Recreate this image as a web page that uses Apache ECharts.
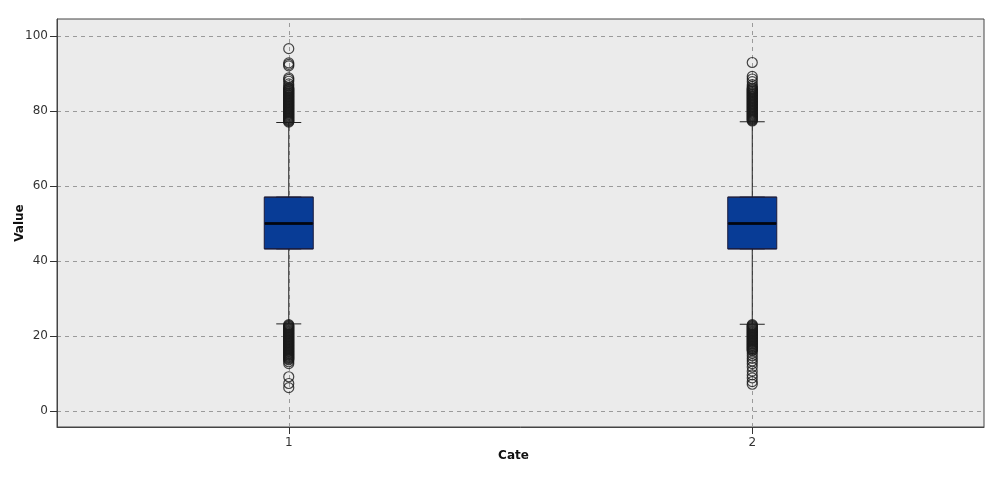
<!DOCTYPE html>
<html>
<head>
<meta charset="utf-8">
<script src="https://cdn.jsdelivr.net/npm/echarts@6/dist/echarts.min.js"></script>
<style>html,body{margin:0;padding:0;background:#fff}#c{width:1000px;height:485px}</style>
</head>
<body>
<div id="c"></div>
<script>
const categories = ['1', '2'];
const yTicks = [0, 20, 40, 60, 80, 100];
// [lower whisker, Q1, median, Q3, upper whisker]
const boxStats = [
  [23.2, 43.2, 50.0, 57.0, 76.9],
  [23.1, 43.2, 50.0, 57.0, 77.1]
];
const outliers1 = [
  96.6, 92.8, 92.4, 92.0, 88.8, 88.4, 87.9, 87.2, 86.7,
  86.2, 86.0, 85.8, 85.6, 85.4, 85.2, 85.0, 84.8, 84.6, 84.4, 84.2, 84.0, 83.8, 83.6,
  83.4, 83.2, 83.0, 82.8, 82.6, 82.4, 82.2, 82.0, 81.8, 81.6, 81.4, 81.2, 81.0, 80.8,
  80.6, 80.4, 80.2, 80.0, 79.8, 79.6, 79.4, 79.2, 79.0, 78.8, 78.6, 78.4, 78.2, 78.0,
  77.8, 77.6, 77.4, 77.2, 77.0,
  23.0, 22.8, 22.6, 22.4, 22.2, 22.0, 21.8, 21.6, 21.4, 21.2, 21.0, 20.8, 20.6, 20.4,
  20.2, 20.0, 19.8, 19.6, 19.4, 19.2, 19.0, 18.8, 18.6, 18.4, 18.2, 18.0, 17.8, 17.6,
  17.4, 17.2, 17.0, 16.8, 16.6, 16.4, 16.2, 16.0, 15.8, 15.6, 15.4, 15.2, 15.0, 14.8,
  14.6, 14.4, 14.2, 14.0, 13.8, 13.6,
  13.1, 12.6, 9.1, 7.3, 6.2
];
const outliers2 = [
  92.9, 89.2, 88.5, 87.8, 87.0, 86.5,
  86.1, 85.9, 85.7, 85.5, 85.3, 85.1, 84.9, 84.7, 84.5, 84.3, 84.1, 83.9, 83.7, 83.5,
  83.3, 83.1, 82.9, 82.7, 82.5, 82.3, 82.1, 81.9, 81.7, 81.5, 81.3, 81.1, 80.9, 80.7,
  80.5, 80.3, 80.1, 79.9, 79.7, 79.5, 79.3, 79.1, 78.9, 78.7, 78.5, 78.3, 78.1, 77.9,
  77.7, 77.5, 77.3,
  23.0, 22.8, 22.6, 22.4, 22.2, 22.0, 21.8, 21.6, 21.4, 21.2, 21.0, 20.8, 20.6, 20.4,
  20.2, 20.0, 19.8, 19.6, 19.4, 19.2, 19.0, 18.8, 18.6, 18.4, 18.2, 18.0, 17.8, 17.6,
  17.4, 17.2, 17.0, 16.8, 16.6, 16.4, 16.2, 16.0,
  15.4, 14.7, 14.0, 13.3, 12.6, 11.7, 10.6, 9.6, 8.8, 7.8, 7.1
];
const outlierLists = [outliers1, outliers2];

const chart = echarts.init(document.getElementById('c'), null, {renderer: 'canvas'});
const tickFont = {fontFamily: 'DejaVu Sans', fontSize: 12, color: '#333'};
const titleFont = {fontFamily: 'DejaVu Sans', fontWeight: 'bold', fontSize: 12, color: '#111'};

const outlierData = [];
outlierLists.forEach((list, i) => list.forEach(v => outlierData.push([categories[i], v])));

chart.setOption({
  animation: false,
  grid: {
    left: 57, right: 16, top: 19, bottom: 58,
    containLabel: false, outerBoundsMode: 'none',
    show: true, backgroundColor: '#ebebeb', borderColor: '#444', borderWidth: 1
  },
  xAxis: [{
    type: 'category', data: categories, boundaryGap: true,
    name: 'Cate', nameLocation: 'middle', nameGap: 23, nameMoveOverlap: false,
    nameTextStyle: Object.assign({padding: [0, 14, 0, 0]}, titleFont),
    axisLine: {show: true, onZero: false, lineStyle: {color: '#444'}},
    axisTick: {show: true, alignWithLabel: true, length: 7, lineStyle: {color: '#333'}},
    axisLabel: Object.assign({margin: 10}, tickFont),
    splitLine: {show: false}
  }, {
    type: 'category', data: categories, boundaryGap: true, show: false,
    axisLine: {onZero: false}
  }],
  yAxis: {
    type: 'value', min: -4.3, max: 104.5,
    name: 'Value', nameLocation: 'middle', nameGap: 31, nameMoveOverlap: false,
    nameTextStyle: titleFont,
    axisLine: {show: true, lineStyle: {color: '#444'}},
    axisTick: {show: true, length: 7, customValues: yTicks, lineStyle: {color: '#333'}},
    axisLabel: Object.assign({margin: 9, customValues: yTicks}, tickFont),
    splitLine: {show: true, lineStyle: {type: [4, 4], color: '#9a9a9a', width: 1}}
  },
  series: [{
    type: 'boxplot', xAxisIndex: 0, z: 2,
    boxWidth: [25, 25],
    data: boxStats,
    itemStyle: {color: '#083c96', borderColor: '#222', borderWidth: 1},
    markLine: {
      silent: true, symbol: 'none', z: 1, animation: false,
      label: {show: false},
      lineStyle: {type: [4, 4], color: '#9a9a9a', width: 1},
      data: categories.map(c => ({xAxis: c}))
    }
  }, {
    type: 'boxplot', xAxisIndex: 1, z: 3,
    boxWidth: [49, 49],
    data: boxStats.map(s => [s[1], s[1], s[2], s[3], s[3]]),
    itemStyle: {color: '#083c96', borderColor: '#1a1a3a', borderWidth: 1}
  }, {
    type: 'scatter', xAxisIndex: 0, z: 4, silent: true,
    symbol: 'rect', symbolSize: [48, 3],
    itemStyle: {color: '#000'},
    data: boxStats.map((s, i) => [categories[i], s[2]])
  }, {
    type: 'scatter', xAxisIndex: 0, z: 5,
    symbol: 'circle', symbolSize: 10,
    itemStyle: {color: 'rgba(0,0,0,0)', borderColor: '#1a1a1a', borderWidth: 1.2},
    data: outlierData
  }]
});
</script>
</body>
</html>
